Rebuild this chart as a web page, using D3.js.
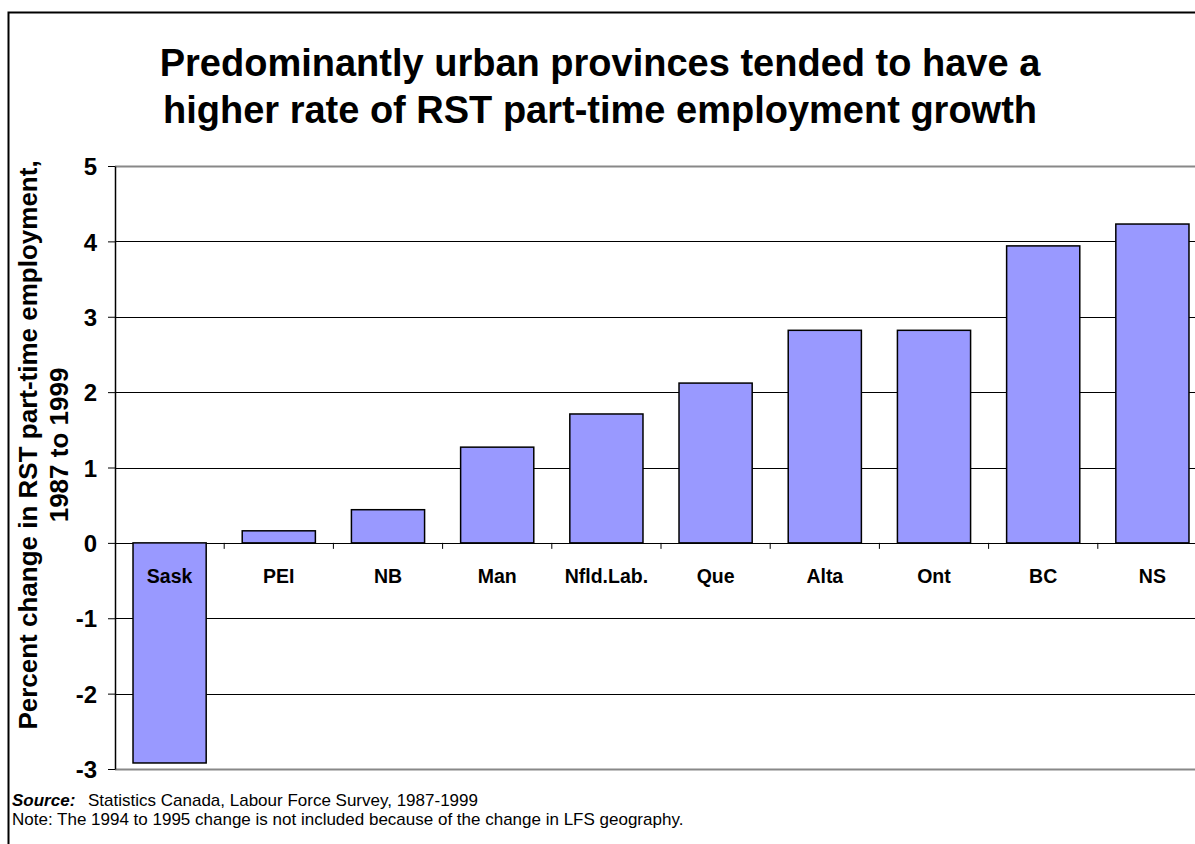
<!DOCTYPE html>
<html>
<head>
<meta charset="utf-8">
<script src="https://cdn.jsdelivr.net/npm/d3@7"></script>
<style>
  html, body { margin: 0; padding: 0; background: #fff; }
  svg { display: block; font-family: "Liberation Sans", Arial, sans-serif; }
</style>
</head>
<body>
<script>
// data
const provinces = ["Sask", "PEI", "NB", "Man", "Nfld.Lab.", "Que", "Alta", "Ont", "BC", "NS"];
const pctChange = [-2.92, 0.16, 0.44, 1.27, 1.71, 2.12, 2.82, 2.82, 3.94, 4.23];
const yTicks = [-3, -2, -1, 0, 1, 2, 3, 4, 5];
const titleLines = [
  "Predominantly urban provinces tended to have a",
  "higher rate of RST part-time employment growth"
];
const yTitleLines = ["Percent change in RST part-time employment,", "1987 to 1999"];

const width = 1195, height = 844;
const plot = { left: 115, right: 1207, top: 166, bottom: 769 };

const svg = d3.select("body").append("svg")
  .attr("width", width)
  .attr("height", height);

// outer frame (only left and top edges show in the picture)
svg.append("path")
  .attr("d", `M8.5,${height} V12.5 H${width}`)
  .attr("fill", "none")
  .attr("stroke", "#000")
  .attr("stroke-width", 2);

// title
svg.append("text")
  .attr("y", 76)
  .attr("text-anchor", "middle")
  .style("font-weight", "bold")
  .style("font-size", "38px")
  .selectAll("tspan")
  .data(titleLines)
  .join("tspan")
  .attr("x", 600)
  .attr("dy", (d, i) => i ? 47 : 0)
  .text(d => d);

const x = d3.scaleBand()
  .domain(provinces)
  .range([plot.left, plot.right])
  .paddingInner(0.33)
  .paddingOuter(0.165);

const y = d3.scaleLinear()
  .domain([-3, 5])
  .range([plot.bottom, plot.top]);

// gridlines
svg.append("g")
  .selectAll("line")
  .data(yTicks)
  .join("line")
  .attr("x1", plot.left)
  .attr("x2", plot.right)
  .attr("y1", d => Math.round(y(d)) + 0.5)
  .attr("y2", d => Math.round(y(d)) + 0.5)
  .attr("stroke", d => (d === 5 || d === -3) ? "#888" : "#000")
  .attr("stroke-width", d => (d === 5 || d === -3) ? 2 : 1);

// bars
svg.append("g")
  .selectAll("rect")
  .data(provinces)
  .join("rect")
  .attr("x", d => x(d))
  .attr("width", x.bandwidth())
  .attr("y", (d, i) => y(Math.max(0, pctChange[i])))
  .attr("height", (d, i) => Math.abs(y(pctChange[i]) - y(0)))
  .attr("fill", "#9999FF")
  .attr("stroke", "#000")
  .attr("stroke-width", 1.5);

// y axis (plain hyphen for negatives, like the original)
const yAxis = svg.append("g")
  .attr("transform", `translate(${plot.left},0)`)
  .call(d3.axisLeft(y).tickValues(yTicks).tickFormat(d => String(d))
    .tickSize(7).tickSizeOuter(0).tickPadding(11));
yAxis.select(".domain").attr("stroke", "#000").attr("stroke-width", 1.5);
yAxis.selectAll(".tick line").attr("stroke", "#000");
yAxis.selectAll(".tick text")
  .attr("fill", "#000")
  .attr("dy", "0.36em")
  .style("font-size", "24px")
  .style("font-weight", "bold")
  .style("font-family", "'Liberation Sans', Arial, sans-serif");

// category ticks along the zero line
const step = x.step();
svg.append("g")
  .selectAll("line")
  .data(d3.range(1, provinces.length))
  .join("line")
  .attr("x1", i => plot.left + i * step)
  .attr("x2", i => plot.left + i * step)
  .attr("y1", y(0))
  .attr("y2", y(0) + 6)
  .attr("stroke", "#000");

// category labels
svg.append("g")
  .selectAll("text")
  .data(provinces)
  .join("text")
  .attr("x", d => x(d) + x.bandwidth() / 2)
  .attr("y", 583)
  .attr("text-anchor", "middle")
  .style("font-size", "19.5px")
  .style("font-weight", "bold")
  .text(d => d);

// y axis title
svg.append("text")
  .attr("transform", `translate(37,445) rotate(-90)`)
  .attr("text-anchor", "middle")
  .style("font-size", "26px")
  .style("font-weight", "bold")
  .selectAll("tspan")
  .data(yTitleLines)
  .join("tspan")
  .attr("x", 0)
  .attr("dy", (d, i) => i ? 31 : 0)
  .text(d => d);

// source and note
const src = svg.append("text")
  .attr("x", 12)
  .attr("y", 806)
  .style("font-size", "17px");
src.append("tspan")
  .style("font-weight", "bold")
  .style("font-style", "italic")
  .text("Source:");
src.append("tspan")
  .attr("x", 88)
  .text("Statistics Canada, Labour Force Survey, 1987-1999");

svg.append("text")
  .attr("x", 12)
  .attr("y", 825)
  .style("font-size", "17px")
  .text("Note: The 1994 to 1995 change is not included because of the change in LFS geography.");
</script>
</body>
</html>
